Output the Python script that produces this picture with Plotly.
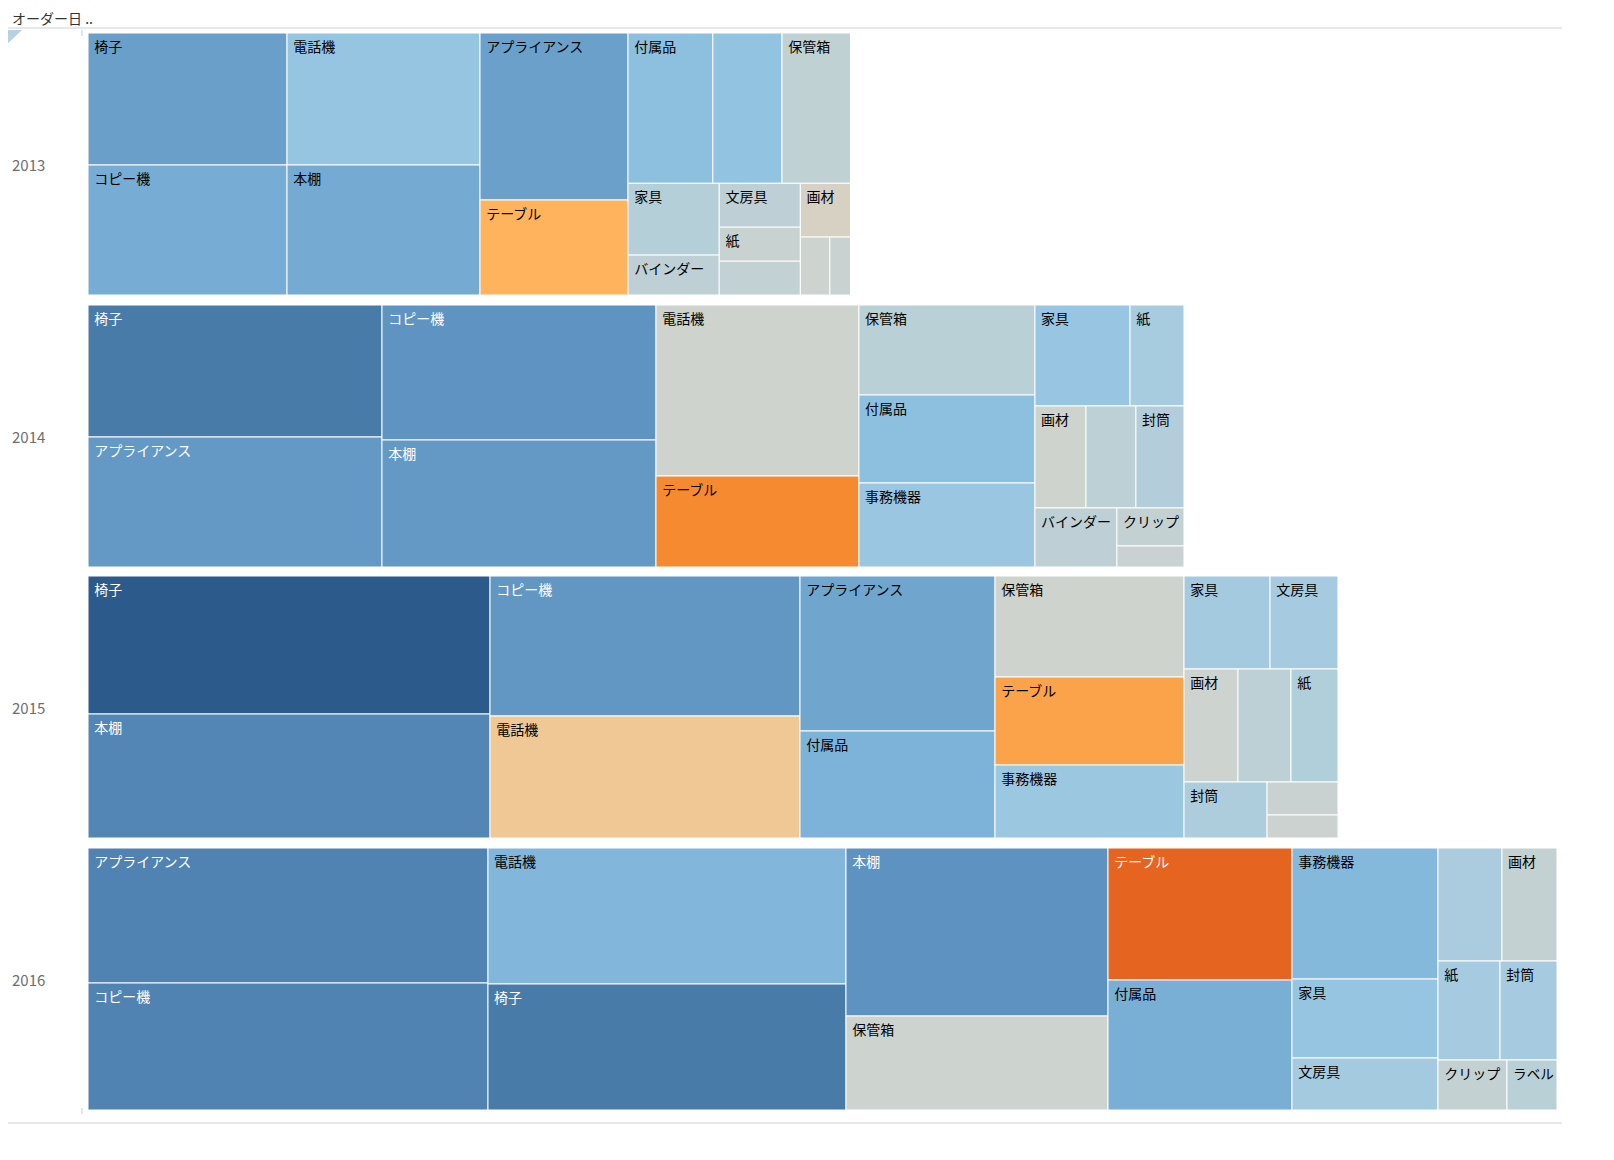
import plotly.graph_objects as go

# sub-categories (same order for every year)
sub_categories = ["椅子", "コピー機", "電話機", "本棚", "アプライアンス", "テーブル",
                  "付属品", "事務機器", "保管箱", "家具", "バインダー", "文房具",
                  "紙", "封筒", "画材", "クリップ", "ラベル"]

years = ["2013", "2014", "2015", "2016"]

# sales per year (size of each cell)
sales_2013 = [2627, 2587, 2548, 2509, 2472, 1406, 1275, 1040, 1030, 655, 364, 356, 276, 274, 270, 171, 120]
sales_2014 = [3881, 3699, 3471, 3480, 3822, 1847, 1549, 1478, 1584, 960, 484, 510, 545, 490, 520, 255, 141]
sales_2015 = [5548, 4340, 3782, 4985, 3023, 1663, 2087, 1380, 1909, 800, 599, 632, 531, 465, 610, 234, 163]
sales_2016 = [4511, 5080, 4869, 4402, 5400, 2429, 2392, 1913, 2463, 1153, 723, 759, 614, 564, 622, 345, 250]

# profit per year (colour of each cell)
profit_2013 = [53, 45, 28, 46, 52, -30, 33, 30, 8, 13, 9, 9, 4, 7, -3, 1, 3]
profit_2014 = [76, 60, 0, 57, 57, -50, 33, 26, 11, 27, 9, 10, 19, 14, 0, 6, 3]
profit_2015 = [100, 58, -15, 68, 49, -38, 41, 25, 0, 21, 10, 20, 15, 17, 1, 3, 2]
profit_2016 = [76, 70, 39, 61, 70, -70, 44, 37, 1, 28, 18, 21, 20, 20, 6, 6, 11]

# labels that the original view leaves blank
hidden_2013 = ["事務機器", "封筒", "クリップ", "ラベル"]
hidden_2014 = ["文房具", "ラベル"]
hidden_2015 = ["バインダー", "クリップ", "ラベル"]
hidden_2016 = ["バインダー"]

sales = [sales_2013, sales_2014, sales_2015, sales_2016]
profit = [profit_2013, profit_2014, profit_2015, profit_2016]
hidden = [hidden_2013, hidden_2014, hidden_2015, hidden_2016]

# orange-blue diverging, centred on zero
colorscale = [
    [0.00, "#b8420c"], [0.15, "#e56520"], [0.25, "#f58a30"], [0.35, "#ffb35c"],
    [0.425, "#f0c896"], [0.50, "#cfd3cd"], [0.55, "#bcd0d6"], [0.60, "#a6cbe0"],
    [0.65, "#92c3e1"], [0.70, "#80b5da"], [0.75, "#6ea3cd"], [0.80, "#5f94c2"],
    [0.85, "#5083b1"], [0.90, "#4475a4"], [1.00, "#2c5a8a"],
]

# the page body has an 8px margin
W, H = 1598, 1144
FONT = "Noto Sans CJK JP"


def fx(px):
    return (px - 8) / W


def fy(px):
    return 1 - (px - 8) / H


row_tops = [33, 305, 576, 848]
ROW_H = 262
LEFT = 88
MAX_W = 1469

totals = [sum(s) for s in sales]

fig = go.Figure()

for i, year in enumerate(years):
    width = totals[i] / max(totals) * MAX_W
    texts = ["" if c in hidden[i] else "\u00a0" + c for c in sub_categories]
    text_colors = ["white" if (p >= 55 or p <= -60) else "black" for p in profit[i]]
    fig.add_trace(go.Treemap(
        name=year,
        labels=sub_categories,
        parents=[""] * len(sub_categories),
        values=sales[i],
        text=texts,
        texttemplate="%{text}",
        textposition="top left",
        sort=True,
        marker=dict(
            colors=profit[i], colorscale=colorscale, cmin=-100, cmax=100,
            showscale=False,
            line=dict(color="white", width=1),
            pad=dict(t=0, l=0, r=0, b=0),
        ),
        tiling=dict(packing="squarify", squarifyratio=1.63, pad=0),
        insidetextfont=dict(color=text_colors, size=14, family=FONT),
        pathbar=dict(visible=False),
        hovertemplate="オーダー日の年: " + year + "<br>サブカテゴリ: %{label}"
                      "<br>売上: %{value}<br>利益: %{color}<extra></extra>",
        domain=dict(x=[fx(LEFT), fx(LEFT + width)],
                    y=[fy(row_tops[i] + ROW_H), fy(row_tops[i])]),
    ))
    fig.add_annotation(
        x=fx(28), y=fy(row_tops[i] + ROW_H / 2), xref="paper", yref="paper",
        text=year, showarrow=False, xanchor="center", yanchor="middle",
        font=dict(size=15, color="#6e6e6e", family=FONT),
    )

# header
fig.add_annotation(
    x=fx(10), y=fy(18), xref="paper", yref="paper", text="オーダー日 ..",
    showarrow=False, xanchor="left", yanchor="middle",
    font=dict(size=14, color="#333333", family=FONT),
)

shapes = [
    dict(type="line", xref="paper", yref="paper", x0=fx(0), x1=fx(1562),
         y0=fy(28), y1=fy(28), line=dict(color="#d0d0d0", width=1)),
    dict(type="line", xref="paper", yref="paper", x0=fx(0), x1=fx(1562),
         y0=fy(1123), y1=fy(1123), line=dict(color="#d0d0d0", width=1)),
    dict(type="path", xref="paper", yref="paper",
         path=f"M {fx(5)},{fy(30)} L {fx(22)},{fy(30)} L {fx(5)},{fy(46)} Z",
         fillcolor="#b9cfe2", line=dict(width=0)),
    dict(type="line", xref="paper", yref="paper", x0=fx(82), x1=fx(82),
         y0=fy(30), y1=fy(36), line=dict(color="#b9cfe2", width=1)),
    dict(type="line", xref="paper", yref="paper", x0=fx(5), x1=fx(5),
         y0=fy(1108), y1=fy(1114), line=dict(color="#b9cfe2", width=1)),
    dict(type="line", xref="paper", yref="paper", x0=fx(82), x1=fx(82),
         y0=fy(1108), y1=fy(1114), line=dict(color="#b9cfe2", width=1)),
]

fig.update_layout(
    width=W, height=H,
    margin=dict(l=0, r=0, t=0, b=0),
    paper_bgcolor="white",
    font=dict(family=FONT),
    shapes=shapes,
)

fig.write_html("out.html")
